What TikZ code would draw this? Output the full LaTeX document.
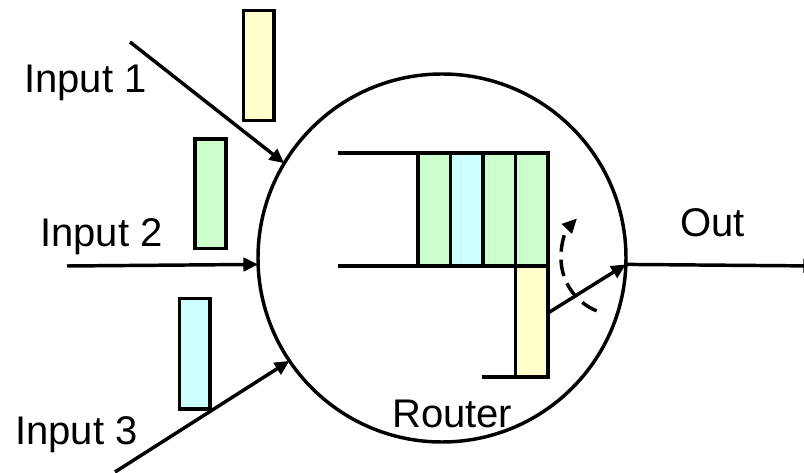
\documentclass[tikz,border=0pt]{standalone}
\usepackage{fontspec}
\setmainfont{Liberation Sans}
\usetikzlibrary{arrows.meta}
\definecolor{pktyellow}{RGB}{255,255,204}
\definecolor{pktgreen}{RGB}{204,255,204}
\definecolor{pktcyan}{RGB}{204,255,255}
\tikzset{
  thick line/.style={line width=2.6pt},
  arr/.style={thick line,-{Triangle[length=11pt,width=10pt]}},
  pkt/.style={thick line,draw=black},
  lbl/.style={font=\fontsize{30}{36}\selectfont,inner sep=0pt,anchor=base west},
}
\begin{document}
\begin{tikzpicture}[x=0.75pt,y=-0.75pt]
\useasboundingbox (0,0) rectangle (804,473);
\clip (0,0) rectangle (804,473);
\fill[white] (0,0) rectangle (804,473);

% router circle
\node[circle,draw,thick line,minimum size=276pt,inner sep=0pt,outer sep=0pt] (router) at (442,258) {};

% packets on inputs
\draw[pkt,fill=pktyellow] (243.5,10.5) rectangle (274,120.5);
\draw[pkt,fill=pktgreen]  (195,139) rectangle (226,248.5);
\draw[pkt,fill=pktcyan]   (179.5,298.5) rectangle (210,409);

% input arrows
\coordinate (in1) at (130,42);
\coordinate (in2) at (67,266);
\coordinate (in3) at (115,472);
\draw[arr] (in1) -- (router.149.9);
\draw[arr] (in2) -- (router.182.5);
\draw[arr] (in3) -- (router.214.6);

% labels
\node[lbl] (l1) at (24,93) {Input 1};
\node[lbl] (l2) at (40,247) {Input 2};
\node[lbl] (l3) at (15,445) {Input 3};
\node[lbl] (lo) at (680,237) {Out};
\node[lbl] (lr) at (392,428) {Router};

% queue
\draw[pkt,fill=pktgreen] (418,153) rectangle (450.5,266);
\draw[pkt,fill=pktcyan]  (450.5,153) rectangle (483,266);
\draw[pkt,fill=pktgreen] (483,153) rectangle (515.5,266);
\draw[pkt,fill=pktgreen] (515.5,153) rectangle (548,266);
\draw[pkt,fill=pktyellow] (515.5,266) rectangle (548,377);
\draw[thick line] (338,153) -- (548,153);
\draw[thick line] (338,266) -- (548,266);
\draw[thick line] (482,377) -- (548,377);

% switch arrow
\coordinate (sw) at (548,313);
\draw[arr] (sw) -- (router.-2.5);

% rotation indication
\coordinate (rc) at (618,258);
\draw[arr,dash pattern=on 12.5pt off 6pt] (rc) ++(112:57) arc[start angle=112,end angle=224,radius=57];

% output arrow
\coordinate (outend) at (818,266);
\draw[arr] (router.-2.5) -- (outend);
\end{tikzpicture}
\end{document}
